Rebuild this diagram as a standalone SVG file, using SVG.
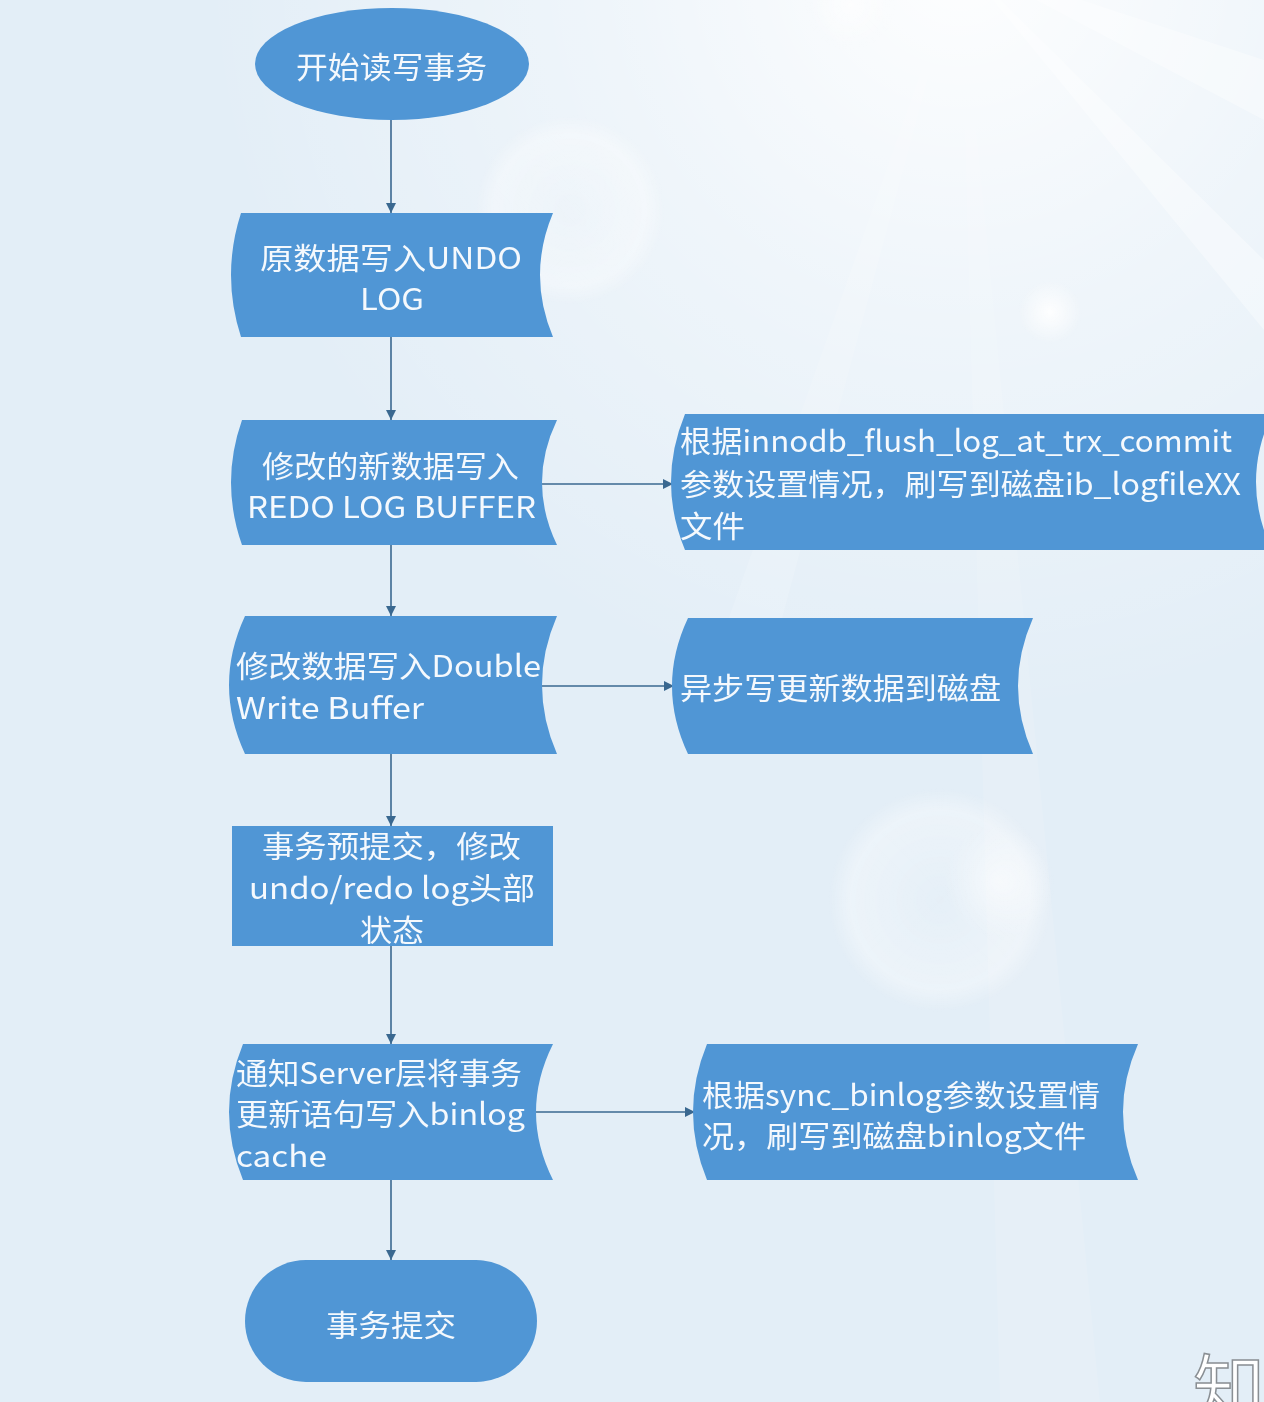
<svg xmlns="http://www.w3.org/2000/svg" width="1264" height="1402" viewBox="0 0 1264 1402">
<defs>
  <radialGradient id="glow" cx="960" cy="-40" r="760" gradientUnits="userSpaceOnUse">
    <stop offset="0" stop-color="#ffffff" stop-opacity="0.95"/>
    <stop offset="0.45" stop-color="#ffffff" stop-opacity="0.45"/>
    <stop offset="1" stop-color="#ffffff" stop-opacity="0"/>
  </radialGradient>
  <radialGradient id="bub" cx="0.5" cy="0.5" r="0.5">
    <stop offset="0" stop-color="#ffffff" stop-opacity="0.1"/>
    <stop offset="0.8" stop-color="#ffffff" stop-opacity="0.35"/>
    <stop offset="1" stop-color="#ffffff" stop-opacity="0"/>
  </radialGradient>
  <radialGradient id="dot" cx="0.5" cy="0.5" r="0.5">
    <stop offset="0" stop-color="#ffffff" stop-opacity="0.9"/>
    <stop offset="1" stop-color="#ffffff" stop-opacity="0"/>
  </radialGradient>
  <marker id="arr" markerWidth="12" markerHeight="12" refX="10" refY="6" orient="auto" markerUnits="userSpaceOnUse">
    <path d="M0,1 L10,6 L0,11 Z" fill="#3a6890"/>
  </marker>
</defs>
<style>
  .shape { fill: #5096d5; }
  .t { font-family: "Microsoft YaHei", "Noto Sans CJK SC", "Noto Sans", sans-serif; font-size: 30px; fill: #f5f9fd; }
  .c { stroke: #3a6890; stroke-width: 1.6; fill: none; marker-end: url(#arr); }
</style>
<rect width="1264" height="1402" fill="#e3eef7"/>
<rect width="1264" height="1402" fill="url(#glow)"/>
<g opacity="0.35" fill="#ffffff">
  <polygon points="960,-40 1264,120 1264,60"/>
  <polygon points="960,-40 1264,330 1264,260"/>
  <polygon points="960,-40 1100,1402 1000,1402" opacity="0.3"/>
  <polygon points="960,-40 700,700 760,700" opacity="0.4"/>
</g>
<circle cx="570" cy="210" r="95" fill="url(#bub)"/>
<circle cx="1050" cy="312" r="32" fill="url(#dot)"/>
<circle cx="940" cy="900" r="112" fill="url(#bub)"/>
<circle cx="1000" cy="882" r="55" fill="url(#dot)" opacity="0.6"/>
<circle cx="850" cy="5" r="45" fill="url(#dot)" opacity="0.7"/>

<g id="connectors">
  <line class="c" x1="391" y1="120" x2="391" y2="213"/>
  <line class="c" x1="391" y1="337" x2="391" y2="420"/>
  <line class="c" x1="391" y1="545" x2="391" y2="616"/>
  <line class="c" x1="391" y1="754" x2="391" y2="826"/>
  <line class="c" x1="391" y1="946" x2="391" y2="1044"/>
  <line class="c" x1="391" y1="1180" x2="391" y2="1260"/>
  <line class="c" x1="540" y1="484" x2="673" y2="484"/>
  <line class="c" x1="542" y1="686" x2="674" y2="686"/>
  <line class="c" x1="536" y1="1112" x2="695" y2="1112"/>
</g>

<g id="start">
  <ellipse class="shape" cx="392" cy="64" rx="137" ry="56"/>
  <text class="t" x="296" y="78" textLength="191" lengthAdjust="spacingAndGlyphs">开始读写事务</text>
</g>

<g id="undo">
  <path class="shape" d="M241,213 L553,213 Q527,275 553,337 L241,337 Q221,275 241,213 Z"/>
  <text class="t" x="260" y="269" textLength="262" lengthAdjust="spacingAndGlyphs">原数据写入UNDO</text>
  <text class="t" x="360" y="310" textLength="64" lengthAdjust="spacingAndGlyphs">LOG</text>
</g>

<g id="redo">
  <path class="shape" d="M242,420 L557,420 Q527,482.5 557,545 L242,545 Q220,482.5 242,420 Z"/>
  <text class="t" x="262" y="477" textLength="257" lengthAdjust="spacingAndGlyphs">修改的新数据写入</text>
  <text class="t" x="247" y="518" textLength="289" lengthAdjust="spacingAndGlyphs">REDO LOG BUFFER</text>
</g>

<g id="flushredo">
  <path class="shape" d="M685,414 L1272,414 Q1240,482 1272,550 L685,550 Q657,482 685,414 Z"/>
  <text class="t" x="680" y="452" textLength="552" lengthAdjust="spacingAndGlyphs">根据innodb_flush_log_at_trx_commit</text>
  <text class="t" x="680" y="495" textLength="561" lengthAdjust="spacingAndGlyphs">参数设置情况，刷写到磁盘ib_logfileXX</text>
  <text class="t" x="680" y="537" textLength="65" lengthAdjust="spacingAndGlyphs">文件</text>
</g>

<g id="doublewrite">
  <path class="shape" d="M245,616 L557,616 Q527,685 557,754 L245,754 Q213,685 245,616 Z"/>
  <text class="t" x="236" y="677" textLength="305" lengthAdjust="spacingAndGlyphs">修改数据写入Double</text>
  <text class="t" x="236" y="719" textLength="188" lengthAdjust="spacingAndGlyphs">Write Buffer</text>
</g>

<g id="asyncdisk">
  <path class="shape" d="M688,618 L1033,618 Q1003,686 1033,754 L688,754 Q656,686 688,618 Z"/>
  <text class="t" x="680" y="699" textLength="321" lengthAdjust="spacingAndGlyphs">异步写更新数据到磁盘</text>
</g>

<g id="prepare">
  <rect class="shape" x="232" y="826" width="321" height="120"/>
  <text class="t" x="262" y="857" textLength="259" lengthAdjust="spacingAndGlyphs">事务预提交，修改</text>
  <text class="t" x="249" y="899" textLength="286" lengthAdjust="spacingAndGlyphs">undo/redo log头部</text>
  <text class="t" x="360" y="941" textLength="64" lengthAdjust="spacingAndGlyphs">状态</text>
</g>

<g id="binlogcache">
  <path class="shape" d="M243,1044 L553,1044 Q519,1112 553,1180 L243,1180 Q215,1112 243,1044 Z"/>
  <text class="t" x="236" y="1084" textLength="286" lengthAdjust="spacingAndGlyphs">通知Server层将事务</text>
  <text class="t" x="236" y="1125" textLength="289" lengthAdjust="spacingAndGlyphs">更新语句写入binlog</text>
  <text class="t" x="236" y="1167" textLength="91" lengthAdjust="spacingAndGlyphs">cache</text>
</g>

<g id="flushbinlog">
  <path class="shape" d="M707,1044 L1138,1044 Q1108,1112 1138,1180 L707,1180 Q679,1112 707,1044 Z"/>
  <text class="t" x="702" y="1106" textLength="398" lengthAdjust="spacingAndGlyphs">根据sync_binlog参数设置情</text>
  <text class="t" x="702" y="1147" textLength="384" lengthAdjust="spacingAndGlyphs">况，刷写到磁盘binlog文件</text>
</g>

<g id="commit">
  <rect class="shape" x="245" y="1260" width="292" height="122" rx="61" ry="61"/>
  <text class="t" x="326" y="1336" textLength="130" lengthAdjust="spacingAndGlyphs">事务提交</text>
</g>

<text x="1193" y="1414" font-family="Noto Sans CJK SC, sans-serif" font-size="72" fill="#ffffff" stroke="#8a8f94" stroke-width="1.5">知</text>
</svg>
